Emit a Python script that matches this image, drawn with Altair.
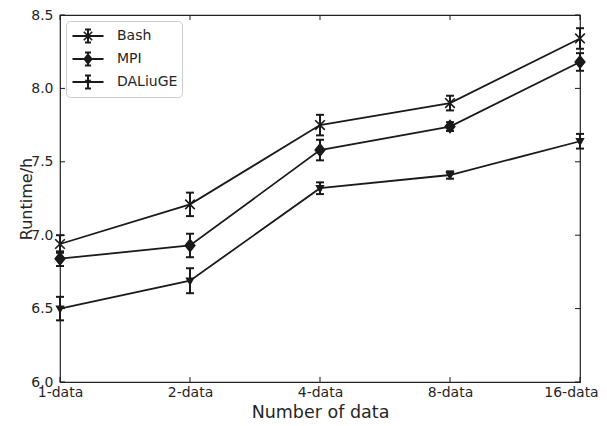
import altair as alt
import pandas as pd

cats = ["1-data", "2-data", "4-data", "8-data", "16-data"]
series = ["Bash", "MPI", "DALiuGE"]

bash_vals = [6.94, 7.21, 7.75, 7.90, 8.34]
bash_err = [0.06, 0.08, 0.07, 0.05, 0.07]
mpi_vals = [6.84, 6.93, 7.58, 7.74, 8.18]
mpi_err = [0.05, 0.08, 0.07, 0.03, 0.06]
dal_vals = [6.50, 6.69, 7.32, 7.41, 7.64]
dal_err = [0.08, 0.085, 0.04, 0.025, 0.05]

y_ticks = [6.0, 6.5, 7.0, 7.5, 8.0, 8.5]

rows = []
for s, vals, errs in [("Bash", bash_vals, bash_err), ("MPI", mpi_vals, mpi_err), ("DALiuGE", dal_vals, dal_err)]:
    for c, v, e in zip(cats, vals, errs):
        rows.append({"cat": c, "series": s, "val": v, "lo": v - e, "hi": v + e})
df = pd.DataFrame(rows)

legend_df = pd.DataFrame({"series": series, "cat": ["1-data"] * 3, "val": [-100.0] * 3})
ytick_df = pd.DataFrame({"val": y_ticks})
xtick_df = pd.DataFrame({"cat": cats})

INK = "#1a1a1a"
W, H = 520, 367


def poly(pts):
    # make every polygon wind the same way so overlapping pieces union under nonzero fill
    area = sum(pts[i][0] * pts[(i + 1) % len(pts)][1] - pts[(i + 1) % len(pts)][0] * pts[i][1]
               for i in range(len(pts)))
    if area < 0:
        pts = pts[::-1]
    return "M" + "L".join(f"{x:.3f},{y:.3f}" for x, y in pts) + "Z"


def seg(x0, y0, x1, y1, t=0.09):
    dx, dy = x1 - x0, y1 - y0
    n = (dx * dx + dy * dy) ** 0.5
    nx, ny = -dy / n * t, dx / n * t
    return poly([(x0 + nx, y0 + ny), (x1 + nx, y1 + ny), (x1 - nx, y1 - ny), (x0 - nx, y0 - ny)])


# legend glyph pieces (unit = 10 px): line, error bar with caps, plus the marker
common = seg(-1.55, 0, 1.55, 0) + seg(0, -0.65, 0, 0.65, 0.1) + \
    seg(-0.3, -0.65, 0.3, -0.65, 0.1) + seg(-0.3, 0.65, 0.3, 0.65, 0.1)
legend_paths = [
    common + seg(-0.42, -0.42, 0.42, 0.42, 0.08) + seg(-0.42, 0.42, 0.42, -0.42, 0.08),
    common + poly([(0, -0.6), (0.48, 0), (0, 0.6), (-0.48, 0)]),
    common + poly([(-0.32, -0.22), (0.32, -0.22), (0, 0.35)]),
]
marker_paths = [
    "M-0.8,-0.8L0.8,0.8M-0.8,0.8L0.8,-0.8",
    "M0,-1L0.8,0L0,1L-0.8,0Z",
    "M-0.55,-0.4L0.55,-0.4L0,0.6Z",
]

x_enc = alt.X(
    "cat:N", sort=cats,
    scale=alt.Scale(type="point", padding=0),
    axis=alt.Axis(title="Number of data", labelAngle=0, ticks=False, domain=False, grid=False,
                  labelPadding=3, titlePadding=4, labelFontSize=14, titleFontSize=17.5,
                  labelOffset={"condition": {"test": "datum.value === '16-data'", "value": -9},
                               "value": 0}),
)
y_axis = alt.Axis(title="Runtime/h", values=y_ticks, format=".1f", ticks=False, domain=False, grid=False,
                  labelPadding=7, titlePadding=-4, labelFontSize=14, titleFontSize=16)
y_scale = alt.Scale(domain=[6, 8.5], nice=False, zero=False)

base = alt.Chart(df)

lines = base.mark_line(color=INK, strokeWidth=1.8).encode(
    x=x_enc, y=alt.Y("val:Q", scale=y_scale, axis=y_axis), detail="series:N"
)
bars = base.mark_rule(color=INK, strokeWidth=2).encode(
    x=x_enc, y=alt.Y("lo:Q", scale=y_scale, axis=y_axis), y2="hi:Q"
)
cap_lo = base.mark_point(shape="stroke", size=64, color=INK, strokeWidth=2, opacity=1).encode(
    x=x_enc, y=alt.Y("lo:Q", scale=y_scale, axis=y_axis)
)
cap_hi = base.mark_point(shape="stroke", size=64, color=INK, strokeWidth=2, opacity=1).encode(
    x=x_enc, y=alt.Y("hi:Q", scale=y_scale, axis=y_axis)
)
markers = base.mark_point(fill=INK, stroke=INK, strokeWidth=1.6, opacity=1, size=144).encode(
    x=x_enc, y=alt.Y("val:Q", scale=y_scale, axis=y_axis),
    shape=alt.Shape("series:N", scale=alt.Scale(domain=series, range=marker_paths), legend=None),
)
legend_layer = alt.Chart(legend_df).mark_point(
    filled=True, color=INK, opacity=1, clip=True
).encode(
    x=x_enc, y=alt.Y("val:Q", scale=y_scale, axis=y_axis),
    shape=alt.Shape("series:N", scale=alt.Scale(domain=series, range=legend_paths),
                    legend=alt.Legend(title=None, orient="top-left", offset=6, symbolSize=400,
                                      fillColor="white", strokeColor="#cccccc", cornerRadius=4,
                                      padding=4, labelFontSize=14, labelOffset=18, symbolOffset=7,
                                      rowPadding=1, labelColor="#262626",
                                      symbolFillColor=INK, symbolOpacity=1)),
)

ytick_l = alt.Chart(ytick_df).mark_rule(color=INK, strokeWidth=1).encode(
    y=alt.Y("val:Q", scale=y_scale, axis=y_axis), x=alt.value(0), x2=alt.value(5)
)
ytick_r = alt.Chart(ytick_df).mark_rule(color=INK, strokeWidth=1).encode(
    y=alt.Y("val:Q", scale=y_scale, axis=y_axis), x=alt.value(W), x2=alt.value(W - 5)
)
xtick_b = alt.Chart(xtick_df).mark_rule(color=INK, strokeWidth=1).encode(
    x=x_enc, y=alt.value(H), y2=alt.value(H - 5)
)
xtick_t = alt.Chart(xtick_df).mark_rule(color=INK, strokeWidth=1).encode(
    x=x_enc, y=alt.value(0), y2=alt.value(5)
)

chart = alt.layer(
    ytick_l, ytick_r, xtick_b, xtick_t, lines, bars, cap_lo, cap_hi, markers, legend_layer
).resolve_scale(shape="independent").properties(
    width=W, height=H,
    autosize=alt.AutoSizeParams(type="none"),
    padding={"left": 52, "top": 7, "right": 19, "bottom": 44},
    background="white",
).configure_view(
    stroke="#222222", strokeWidth=1.2
).configure_axis(
    labelColor="#262626", titleColor="#262626", labelFont="DejaVu Sans", titleFont="DejaVu Sans",
    titleFontWeight="normal"
).configure_legend(
    labelFont="DejaVu Sans"
)

chart.save("out.html", embed_options={"renderer": "svg", "actions": False})
